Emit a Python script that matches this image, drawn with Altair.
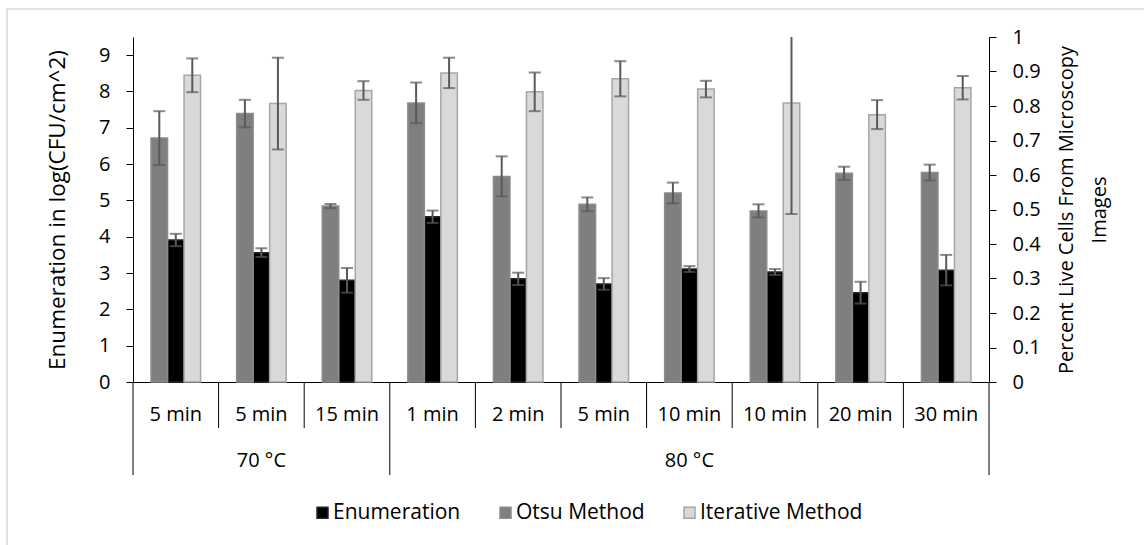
import json
import altair as alt
import pandas as pd

# ---------------- data ----------------
times = ["5 min", "5 min", "15 min", "1 min", "2 min", "5 min", "10 min", "10 min", "20 min", "30 min"]
temps = ["70 °C", "70 °C", "70 °C", "80 °C", "80 °C", "80 °C", "80 °C", "80 °C", "80 °C", "80 °C"]

enum_vals = [3.91, 3.56, 2.80, 4.55, 2.84, 2.70, 3.11, 3.03, 2.46, 3.08]
enum_err = [0.17, 0.12, 0.34, 0.17, 0.17, 0.16, 0.08, 0.08, 0.30, 0.42]

otsu_vals = [0.707, 0.778, 0.510, 0.809, 0.596, 0.515, 0.548, 0.496, 0.605, 0.607]
otsu_err = [0.078, 0.040, 0.006, 0.059, 0.058, 0.020, 0.030, 0.019, 0.019, 0.023]

iter_vals = [0.889, 0.807, 0.845, 0.896, 0.841, 0.879, 0.849, 0.809, 0.775, 0.853]
iter_err = [0.049, 0.133, 0.027, 0.044, 0.056, 0.051, 0.024, 0.322, 0.042, 0.034]

series_names = ["Enumeration", "Otsu Method", "Iterative Method"]
offset_order = ["Otsu Method", "Enumeration", "Iterative Method"]
fill_colors = ["#000000", "#7f7f7f", "#d9d9d9"]
stroke_colors = ["#262626", "#8c8c8c", "#a6a6a6"]

left_title = "Enumeration in log(CFU/cm^2)"
right_title = ["Percent Live Cells From Microscopy", "Images"]

FONT = "Open Sans"
FS = 20
ERR_COLOR = "#595959"

W, H = 856, 345
PAD = {"left": 133, "top": 37, "right": 155, "bottom": 163}
STEP = W / 10
SUB = 16.5
OFF0 = (STEP - 3 * SUB) / 2

idx = list(range(len(times)))


def long_df(name, vals, errs):
    return pd.DataFrame({
        "idx": idx,
        "series": name,
        "value": vals,
        "lower": [v - e for v, e in zip(vals, errs)],
        "upper": [v + e for v, e in zip(vals, errs)],
    })


def caps_df(df):
    return df.melt(id_vars=["idx", "series"], value_vars=["lower", "upper"],
                   var_name="end", value_name="cap")


enum_df = long_df("Enumeration", enum_vals, enum_err)
pct_df = pd.concat([long_df("Otsu Method", otsu_vals, otsu_err),
                    long_df("Iterative Method", iter_vals, iter_err)], ignore_index=True)

# group label / separator tables derived from temps
groups = []
for t in dict.fromkeys(temps):
    members = [i for i, g in enumerate(temps) if g == t]
    groups.append({"temp": t, "start": members[0], "mid": (members[0] + members[-1]) // 2})
group_df = pd.DataFrame(groups)
group_starts = set(group_df["start"])
short_df = pd.DataFrame({"idx": [i for i in idx if i not in group_starts]})
long_sep_df = pd.DataFrame({"idx": sorted(group_starts)})
end_df = pd.DataFrame({"idx": [idx[-1]]})

# ---------------- encodings ----------------
x_axis = alt.Axis(title=None, labelExpr=f"{json.dumps(times)}[datum.value]",
                  labelFont=FONT, labelFontSize=FS, labelColor="black", labelAngle=0,
                  labelPadding=32, labelBaseline="middle", ticks=False, tickSize=0,
                  domainColor="black", domainWidth=1, grid=False)
x_scale = alt.Scale(domain=idx, paddingInner=0, paddingOuter=0)


def X(field="idx", bp=None):
    kw = {} if bp is None else {"bandPosition": bp}
    return alt.X(f"{field}:O", scale=x_scale, axis=x_axis, **kw)


xoff = alt.XOffset("series:N", scale=alt.Scale(domain=offset_order, range=[OFF0, OFF0 + 3 * SUB],
                                               paddingInner=0, paddingOuter=0))

legend = alt.Legend(orient="none", legendX=179, legendY=465, direction="horizontal", title=None,
                    symbolType="square", symbolSize=121, symbolStrokeWidth=1.5,
                    labelFont=FONT, labelFontSize=21, labelColor="black", labelLimit=400,
                    columnPadding=34, labelOffset=0, padding=0)
color = alt.Color("series:N", scale=alt.Scale(domain=series_names, range=fill_colors), legend=legend)
stroke = alt.Stroke("series:N", scale=alt.Scale(domain=series_names, range=stroke_colors), legend=legend)

left_scale = alt.Scale(domain=[0, 9.5], nice=False, zero=True)
left_axis = alt.Axis(orient="left", values=list(range(10)), format="d", title=left_title,
                     labelFont=FONT, labelFontSize=FS, labelColor="black", labelPadding=16,
                     tickSize=7, tickColor="black", domainColor="black", domainWidth=1, grid=False,
                     titleFont=FONT, titleFontSize=22.5, titleFontWeight="normal", titleColor="black",
                     titleAngle=270, titleX=-76, titleY=H / 2, titleAlign="center", titleBaseline="middle")

right_scale = alt.Scale(domain=[0, 1], nice=False, zero=True)
right_axis = alt.Axis(orient="right", values=[round(i / 10, 1) for i in range(11)], format=".1~f",
                      title=right_title,
                      labelFont=FONT, labelFontSize=FS, labelColor="black", labelPadding=16,
                      tickSize=7, tickColor="black", domainColor="black", domainWidth=1, grid=False,
                      titleFont=FONT, titleFontSize=20, titleFontWeight="normal", titleColor="black",
                      titleAngle=270, titleX=77, titleY=H / 2, titleAlign="center",
                      titleBaseline="middle", titleLineHeight=33)

# ---------------- left (enumeration) ----------------
enum_bars = alt.Chart(enum_df).mark_bar(strokeWidth=1.5).encode(
    x=X(), xOffset=xoff,
    y=alt.Y("value:Q", scale=left_scale, axis=left_axis),
    color=color, stroke=stroke,
)
enum_rule = alt.Chart(enum_df).mark_rule(color=ERR_COLOR, strokeWidth=2, clip=True).encode(
    x=X(), xOffset=xoff,
    y=alt.Y("lower:Q", scale=left_scale, axis=left_axis), y2="upper:Q",
)
enum_caps = alt.Chart(caps_df(enum_df)).mark_tick(color=ERR_COLOR, thickness=2, size=12, clip=True).encode(
    x=X(), xOffset=xoff,
    y=alt.Y("cap:Q", scale=left_scale, axis=left_axis),
)
left = alt.layer(enum_bars, enum_rule, enum_caps)

# ---------------- right (percent) ----------------
pct_bars = alt.Chart(pct_df).mark_bar(strokeWidth=1.5).encode(
    x=X(), xOffset=xoff,
    y=alt.Y("value:Q", scale=right_scale, axis=right_axis),
    color=color, stroke=stroke,
)
pct_rule = alt.Chart(pct_df).mark_rule(color=ERR_COLOR, strokeWidth=2, clip=True).encode(
    x=X(), xOffset=xoff,
    y=alt.Y("lower:Q", scale=right_scale, axis=right_axis), y2="upper:Q",
)
pct_caps = alt.Chart(caps_df(pct_df)).mark_tick(color=ERR_COLOR, thickness=2, size=12, clip=True).encode(
    x=X(), xOffset=xoff,
    y=alt.Y("cap:Q", scale=right_scale, axis=right_axis),
)
right = alt.layer(pct_bars, pct_rule, pct_caps)

# ---------------- category axis decorations ----------------
short_sep = alt.Chart(short_df).mark_rule(color="black", strokeWidth=1).encode(
    x=X(bp=0), y=alt.value(H), y2=alt.value(H + 46))
long_sep = alt.Chart(long_sep_df).mark_rule(color="black", strokeWidth=1).encode(
    x=X(bp=0), y=alt.value(H), y2=alt.value(H + 93))
end_sep = alt.Chart(end_df).mark_rule(color="black", strokeWidth=1).encode(
    x=X(bp=1), y=alt.value(H), y2=alt.value(H + 93))
group_text = alt.Chart(group_df).mark_text(font=FONT, fontSize=FS, color="black",
                                           baseline="middle", align="center").encode(
    x=X("mid", bp=0.5), y=alt.value(H + 79), text="temp:N")

border = alt.Chart(pd.DataFrame({"k": [0]})).mark_rect(
    fill="white", fillOpacity=0, stroke="#d9d9d9", strokeWidth=1.5).encode(
    x=alt.value(-126), x2=alt.value(W + PAD["right"] + 20),
    y=alt.value(-28), y2=alt.value(H + PAD["bottom"] + 20))

chart = alt.layer(border, left, right, short_sep, long_sep, end_sep, group_text).resolve_scale(
    y="independent"
).properties(
    width=W, height=H, padding=PAD, autosize=alt.AutoSizeParams(type="none"),
    background="white",
).configure_view(stroke=None)

chart.save("out.html", embed_options={"renderer": "svg", "actions": False})
